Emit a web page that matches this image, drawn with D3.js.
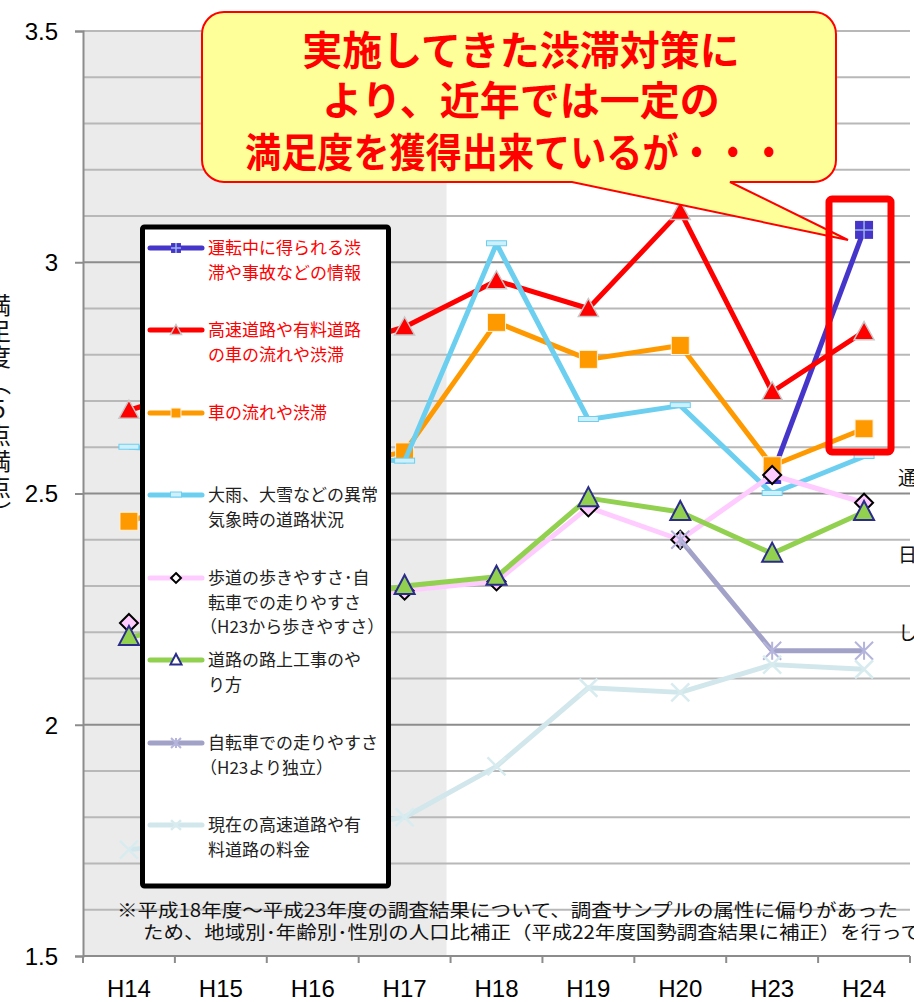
<!DOCTYPE html>
<html><head><meta charset="utf-8">
<script src="https://cdn.jsdelivr.net/npm/d3@7"></script>
<style>
html,body{margin:0;padding:0;background:#fff;overflow:hidden}
svg{display:block}
</style></head>
<body>
<script>
const categories = ["H14","H15","H16","H17","H18","H19","H20","H23","H24"];
const yTicks = [1.5, 2, 2.5, 3, 3.5];
const sInfo      = [null, null, null, null, null, null, null, 2.54, 3.07];
const sExpress   = [2.68, 2.74, 2.80, 2.86, 2.96, 2.90, 3.11, 2.72, 2.85];
const sFlow      = [2.44, 2.50, 2.55, 2.59, 2.87, 2.79, 2.82, 2.56, 2.64];
const sWeather   = [2.60, 2.59, 2.58, 2.57, 3.04, 2.66, 2.69, 2.50, 2.58];
const sWalk      = [2.22, 2.24, 2.27, 2.29, 2.31, 2.47, 2.40, 2.54, 2.48];
const sRoadwork  = [2.19, 2.22, 2.26, 2.30, 2.32, 2.49, 2.46, 2.37, 2.46];
const sBicycle   = [null, null, null, null, null, null, 2.40, 2.16, 2.16];
const sToll      = [1.73, 1.75, 1.77, 1.80, 1.91, 2.08, 2.07, 2.13, 2.12];
const legendLabels = [
  ["運転中に得られる渋","滞や事故などの情報"],
  ["高速道路や有料道路","の車の流れや渋滞"],
  ["車の流れや渋滞"],
  ["大雨、大雪などの異常","気象時の道路状況"],
  ["歩道の歩きやすさ･自","転車での走りやすさ","（H23から歩きやすさ）"],
  ["道路の路上工事のや","り方"],
  ["自転車での走りやすさ","（H23より独立）"],
  ["現在の高速道路や有","料道路の料金"]
];
const calloutLines = ["実施してきた渋滞対策に","より、近年では一定の","満足度を獲得出来ているが・・・"];
const noteLines = ["※平成18年度～平成23年度の調査結果について、調査サンプルの属性に偏りがあった",
                   "ため、地域別･年齢別･性別の人口比補正（平成22年度国勢調査結果に補正）を行って"];
const yTitle = "満足度（5点満点）";
const sideLabels = ["通","日","し"];

const series = [
  {v:sInfo, color:"#4535C9", marker:"bsq", legendRed:true},
  {v:sExpress, color:"#FF0000", marker:"tri", legendRed:true},
  {v:sFlow, color:"#FF9900", marker:"sq", legendRed:true},
  {v:sWeather, color:"#6CCFF0", marker:"dash"},
  {v:sWalk, color:"#FFCCFF", marker:"dia"},
  {v:sRoadwork, color:"#92D050", marker:"gtri"},
  {v:sBicycle, color:"#A2A2C8", marker:"ast"},
  {v:sToll, color:"#D2E7EB", marker:"x"}
];

const W = 914, H = 1002;
const svg = d3.select("body").append("svg").attr("width", W).attr("height", H);
const CJK = "'Noto Sans CJK JP', sans-serif";
const LAT = "'Liberation Sans', Arial, sans-serif";

const x = d3.scaleBand().domain(categories).range([83, 910]);
const y = d3.scaleLinear().domain([1.5, 3.5]).range([956, 31]);
const cx = c => x(c) + x.bandwidth() / 2;

// shaded background for H14-H17
svg.append("rect").attr("x", x("H14")).attr("y", y(3.5))
  .attr("width", x("H18") - x("H14") - 4).attr("height", y(1.5) - y(3.5)).attr("fill", "#EBEBEB");

// gridlines
const grid = d3.range(16, 36).map(d => d / 10);
svg.append("g").selectAll("line").data(grid).join("line")
  .attr("x1", 83).attr("x2", 910)
  .attr("y1", d => y(d)).attr("y2", d => y(d))
  .attr("stroke", d => (Math.round(d * 10) % 5 === 0 && d < 3.5) ? "#8C8C8C" : "#B8B8B8")
  .attr("stroke-width", 2);

// y axis
const yAxis = d3.axisLeft(y).tickValues(yTicks).tickSize(8).tickFormat(d => d3.format("")(d));
const gy = svg.append("g").attr("transform", "translate(83,0)").call(yAxis);
gy.select(".domain").attr("stroke", "#8C8C8C").attr("stroke-width", 2);
gy.selectAll(".tick line").attr("stroke", "#8C8C8C").attr("stroke-width", 2);
gy.selectAll(".tick text").attr("font-family", LAT).attr("font-size", 24).attr("fill", "#000")
  .attr("x", -25).attr("dy", "0.35em");

// x axis
const gx = svg.append("g").attr("transform", "translate(0,956)");
gx.append("line").attr("x1", 83).attr("x2", 910).attr("stroke", "#8C8C8C").attr("stroke-width", 2);
gx.selectAll(".tk").data(categories.concat(["end"])).join("line").attr("class","tk")
  .attr("x1", (d,i) => 83 + i * x.bandwidth()).attr("x2", (d,i) => 83 + i * x.bandwidth())
  .attr("y1", 0).attr("y2", 7).attr("stroke", "#8C8C8C").attr("stroke-width", 2);
gx.selectAll(".lb").data(categories).join("text").attr("class","lb")
  .attr("x", d => cx(d)).attr("y", 41).attr("text-anchor", "middle")
  .attr("font-family", LAT).attr("font-size", 24).attr("fill", "#000").text(d => d);

// markers
function marker(g, type, px, py, s) {
  const k = s;
  if (type === "tri") {
    g.append("path").attr("d", `M${px},${py-10*k} L${px+10*k},${py+8*k} L${px-10*k},${py+8*k} Z`)
      .attr("fill", "#FF0000").attr("stroke", "#C8C8C8").attr("stroke-width", 1.5);
  } else if (type === "gtri") {
    g.append("path").attr("d", `M${px},${py-11*k} L${px+10*k},${py+8*k} L${px-10*k},${py+8*k} Z`)
      .attr("fill", k < 1 ? "#fff" : "#92D050").attr("stroke", "#2B2B8C").attr("stroke-width", 2);
  } else if (type === "sq") {
    g.append("rect").attr("x", px-9*k).attr("y", py-9*k).attr("width", 18*k).attr("height", 18*k)
      .attr("fill", "#FF9900").attr("stroke", "#FFF2DD").attr("stroke-width", 1);
  } else if (type === "bsq") {
    g.append("rect").attr("x", px-9*k).attr("y", py-9*k).attr("width", 18*k).attr("height", 18*k)
      .attr("fill", "#4535C9");
    g.append("path").attr("d", `M${px-9*k},${py} H${px+9*k} M${px},${py-9*k} V${py+9*k}`)
      .attr("stroke", "#9DB4E8").attr("stroke-width", 1.5);
  } else if (type === "dash") {
    g.append("rect").attr("x", px-10*k).attr("y", py-3).attr("width", 20*k).attr("height", 5)
      .attr("fill", "#CFEFFA").attr("stroke", "#6CCFF0").attr("stroke-width", 1);
  } else if (type === "dia") {
    g.append("path").attr("d", `M${px},${py-9*k} L${px+9*k},${py} L${px},${py+9*k} L${px-9*k},${py} Z`)
      .attr("fill", k < 1 ? "#fff" : "#FFCCFF").attr("stroke", "#000").attr("stroke-width", 2);
  } else if (type === "ast") {
    const r = 9*k;
    g.append("path").attr("d", `M${px-r},${py-r} L${px+r},${py+r} M${px-r},${py+r} L${px+r},${py-r} M${px},${py-r} V${py+r}`)
      .attr("stroke", "#B4B4DC").attr("stroke-width", 2);
  } else if (type === "x") {
    const r = 9*k;
    g.append("path").attr("d", `M${px-r},${py-r} L${px+r},${py+r} M${px-r},${py+r} L${px+r},${py-r}`)
      .attr("stroke", "#D8ECF0").attr("stroke-width", 2.5);
  }
}

// series
const line = d3.line().defined(d => d.v != null).x(d => cx(d.c)).y(d => y(d.v));
series.forEach(s => {
  const pts = categories.map((c, i) => ({c, v: s.v[i]}));
  const g = svg.append("g");
  g.append("path").datum(pts).attr("d", line).attr("fill", "none")
    .attr("stroke", s.color).attr("stroke-width", 5).attr("stroke-linejoin", "round");
  pts.filter(p => p.v != null).forEach(p => marker(g, s.marker, cx(p.c), y(p.v), 1));
});

// legend
const lg = svg.append("g");
lg.append("rect").attr("x", 142.5).attr("y", 227).attr("width", 246).attr("height", 659)
  .attr("fill", "#fff").attr("stroke", "#000").attr("stroke-width", 5).attr("rx", 2);
const legY = [248, 330, 413, 495, 578, 660, 743, 825];
series.forEach((s, i) => {
  const yy = legY[i];
  lg.append("line").attr("x1", 150).attr("x2", 202).attr("y1", yy).attr("y2", yy)
    .attr("stroke", s.color).attr("stroke-width", 5).attr("stroke-linecap", "round");
  marker(lg, s.marker, 176, yy, 0.55);
  const t = lg.append("text").attr("font-family", CJK).attr("font-size", 17)
    .attr("fill", s.legendRed ? "#FF0000" : "#222");
  legendLabels[i].forEach((ln, j) => {
    t.append("tspan").attr("x", ln.startsWith("（") ? 200 : 208).attr("y", yy + 6 + j * 24.5).text(ln);
  });
});

// note
svg.append("text").attr("x", 117).attr("y", 917).attr("font-family", CJK).attr("font-size", 18)
  .attr("fill", "#111").attr("textLength", 781).attr("lengthAdjust", "spacingAndGlyphs").text(noteLines[0]);
svg.append("text").attr("x", 143).attr("y", 939).attr("font-family", CJK).attr("font-size", 18)
  .attr("fill", "#111").attr("textLength", 778).attr("lengthAdjust", "spacingAndGlyphs").text(noteLines[1]);

// callout bubble
const bx0 = 202, by0 = 12, bx1 = 836, by1 = 182, r = 22;
const bub = `M${bx0+r},${by0} H${bx1-r} A${r},${r} 0 0 1 ${bx1},${by0+r} V${by1-r} A${r},${r} 0 0 1 ${bx1-r},${by1}
 H730 L848,240 L572,${by1} H${bx0+r} A${r},${r} 0 0 1 ${bx0},${by1-r} V${by0+r} A${r},${r} 0 0 1 ${bx0+r},${by0} Z`;
svg.append("path").attr("d", bub).attr("fill", "#FFFF99").attr("stroke", "#FF0000").attr("stroke-width", 2);
const ctY = [65, 115, 167];
const ctLen = [null, null, 542];
const ctX = [521, 521, 245];
calloutLines.forEach((ln, i) => {
  const t = svg.append("text").attr("font-family", CJK).attr("font-weight", 700).attr("font-size", 40)
    .attr("fill", "#FF0000").attr("y", ctY[i]).text(ln);
  if (ctLen[i]) {
    t.attr("x", ctX[i]).attr("textLength", ctLen[i]).attr("lengthAdjust", "spacingAndGlyphs");
  } else {
    t.attr("x", ctX[i]).attr("text-anchor", "middle");
  }
});

// highlight rectangle
svg.append("rect").attr("x", 829).attr("y", 199).attr("width", 62).attr("height", 253)
  .attr("fill", "none").attr("stroke", "#FF0000").attr("stroke-width", 7).attr("rx", 3);

// clipped side labels
[478, 555, 633].forEach((yy, i) => svg.append("text").attr("x", 898).attr("y", yy + 7)
  .attr("font-family", CJK).attr("font-size", 19).attr("fill", "#111").text(sideLabels[i]));

// y-axis title (vertical writing)
svg.append("text").attr("x", -1).attr("y", 293)
  .attr("font-family", CJK).attr("font-size", 24).attr("fill", "#111")
  .attr("letter-spacing", 2)
  .style("writing-mode", "vertical-rl").style("text-orientation", "upright")
  .text(yTitle);
</script>
</body></html>
